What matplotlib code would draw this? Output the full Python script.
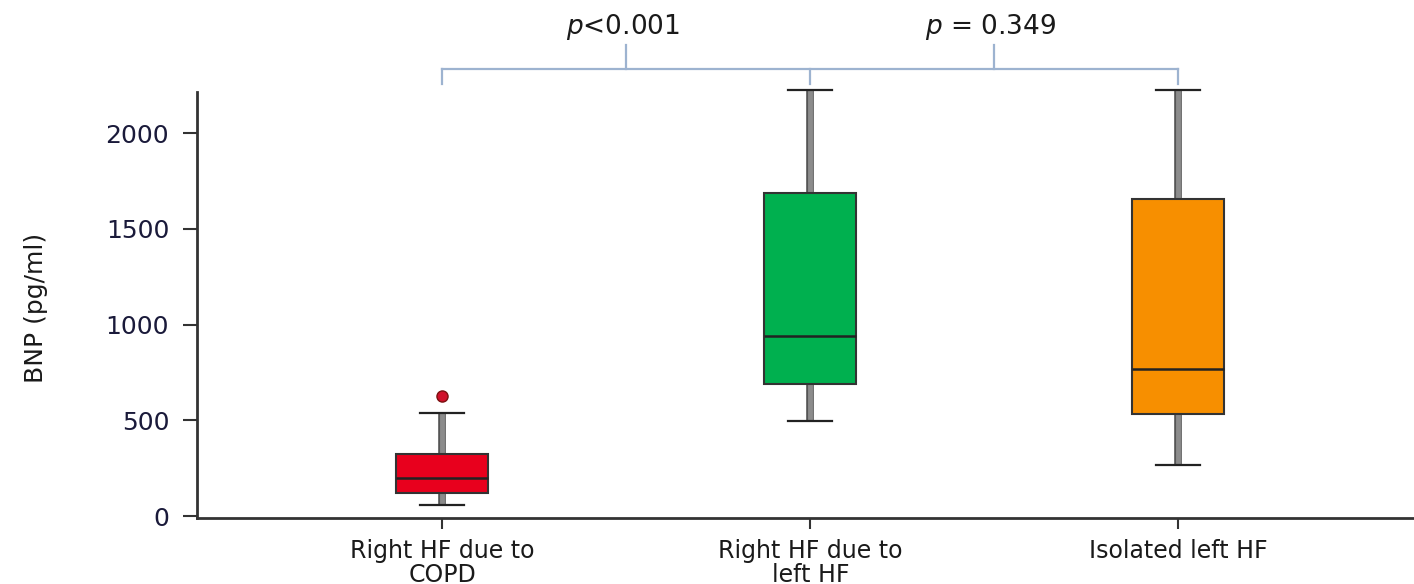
import matplotlib
matplotlib.use("Agg")
import matplotlib.pyplot as plt
import matplotlib.patheffects as pe

categories = ["Right HF due to\nCOPD", "Right HF due to\nleft HF", "Isolated left HF"]
whislo = [57, 496, 266]
q1 = [120, 689, 533]
med = [198, 940, 768]
q3 = [324, 1687, 1655]
whishi = [538, 2225, 2225]
fliers = [[627], [], []]
box_colors = ["#E8001D", "#00B04F", "#F78F00"]
yticks = [0, 500, 1000, 1500, 2000]
p_labels = ["$p$<0.001", "$p$ = 0.349"]

plt.rcParams['font.family'] = ['DejaVu Sans']
plt.rcParams['mathtext.fontset'] = 'dejavusans'

fig = plt.figure(figsize=(14.14, 5.84), dpi=100)
ax = fig.add_axes([197/1414, (584-518)/584, 1 - 197/1414, (518-92)/584])

stats = []
for i in range(3):
    stats.append(dict(whislo=whislo[i], q1=q1[i], med=med[i], q3=q3[i],
                      whishi=whishi[i], fliers=fliers[i], label=categories[i]))

pos = [1, 2, 3]
bp = ax.bxp(stats, positions=pos, widths=0.25, capwidths=0.12, patch_artist=True,
            showfliers=True,
            boxprops=dict(edgecolor="#333333", linewidth=1.5),
            medianprops=dict(color="#222222", linewidth=1.8),
            whiskerprops=dict(color="#8c8c8c", linewidth=3.5, solid_capstyle="butt",
                              path_effects=[pe.Stroke(linewidth=5.5, foreground="#555555"), pe.Normal()]),
            capprops=dict(color="#222222", linewidth=1.6),
            flierprops=dict(marker="o", markerfacecolor="#D0102A", markeredgecolor="#7a1010",
                            markersize=8, markeredgewidth=1))
for patch, c in zip(bp["boxes"], box_colors):
    patch.set_facecolor(c)
for art in bp["whiskers"] + bp["caps"] + bp["fliers"]:
    art.set_clip_on(False)
for art in bp["whiskers"]:
    art.set_zorder(1)

ax.set_xlim(0.334, 3.64)
ax.set_ylim(-10, 2215)
ax.set_yticks(yticks)
ax.set_yticklabels([str(v) for v in yticks])
ax.set_xticks(pos)
ax.set_xticklabels(categories, fontsize=17, color="#1a1a1a", linespacing=1.0)
ax.tick_params(axis="y", labelsize=18, length=10, width=1.5, colors="#333333",
               labelcolor="#1a1a3a", pad=10)
ax.tick_params(axis="x", length=8, width=1.5, colors="#333333", labelcolor="#1a1a1a", pad=7)
for s in ["top", "right"]:
    ax.spines[s].set_visible(False)
for s in ["left", "bottom"]:
    ax.spines[s].set_linewidth(2)
    ax.spines[s].set_color("#333333")

ax.set_ylabel("BNP (pg/ml)", fontsize=18, color="#1a1a1a")
ax.yaxis.set_label_coords((48 - 197) / 1217, (518 - 308) / 426)

# significance brackets
bc = "#9DB3D0"
yb = 2334
ye = 2256
yt = 2460
ax.plot([1, 3], [yb, yb], color=bc, lw=1.6, clip_on=False)
for x in pos:
    ax.plot([x, x], [yb, ye], color=bc, lw=1.6, clip_on=False)
mids = [(pos[0] + pos[1]) / 2, (pos[1] + pos[2]) / 2]
for m, lab in zip(mids, p_labels):
    ax.plot([m, m], [yb, yt], color=bc, lw=1.6, clip_on=False)
    ax.text(m - 0.01, 2555, lab, ha="center", va="center", fontsize=19, color="#1a1a1a",
            clip_on=False)

fig.savefig("out.png", dpi=100)
